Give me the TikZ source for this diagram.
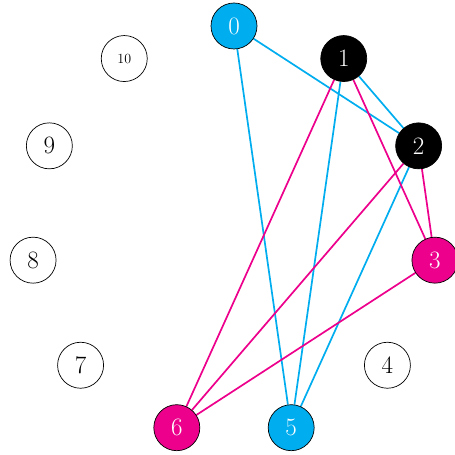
\documentclass[tikz,border=0pt]{standalone}
\usetikzlibrary{backgrounds}
\definecolor{vcyan}{cmyk}{1,0,0,0}
\definecolor{vmag}{cmyk}{0,1,0,0}

\begin{document}
\begin{tikzpicture}[x=1pt, y=1pt,
            every node/.style={draw, line width=0.7pt, circle, minimum size=46pt, inner sep=0pt, fill=white,
                               font=\fontsize{25}{28}\selectfont},
            cyanv/.style={fill=vcyan, text=white},
            blackv/.style={fill=black, text=white},
            magv/.style={fill=vmag, text=white},
            plainv/.style={},
            smallv/.style={font=\fontsize{14}{16}\selectfont},
            cyanedge/.style={draw=vcyan, line width=1.7pt},
            magedge/.style={draw=vmag, line width=1.7pt}]
        \useasboundingbox (0,0) rectangle (455,455);
        \foreach \i/\s in {0/cyanv, 1/blackv, 2/blackv, 3/magv, 4/plainv, 5/cyanv,
                           6/magv, 7/plainv, 8/plainv, 9/plainv, 10/smallv}
            \node[\s] (v\i) at ({234+203*cos(90-\i*360/11)}, {224+205*sin(90-\i*360/11)}) {\i};
        \begin{scope}[on background layer]
            \draw[cyanedge] (v0) -- (v2);
            \draw[cyanedge] (v0) -- (v5);
            \draw[cyanedge] (v1) -- (v2);
            \draw[cyanedge] (v1) -- (v5);
            \draw[cyanedge] (v2) -- (v5);
            \draw[magedge] (v1) -- (v3);
            \draw[magedge] (v1) -- (v6);
            \draw[magedge] (v2) -- (v3);
            \draw[magedge] (v2) -- (v6);
            \draw[magedge] (v3) -- (v6);
        \end{scope}
\end{tikzpicture}
\end{document}
